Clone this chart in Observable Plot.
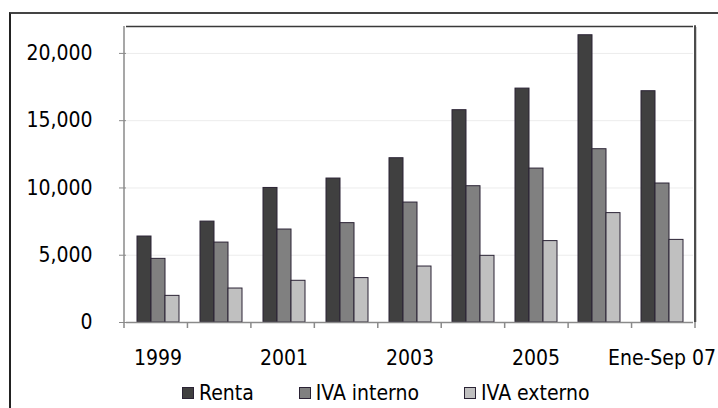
<!DOCTYPE html>
<html>
<head>
<meta charset="utf-8">
<script src="https://cdn.jsdelivr.net/npm/d3@7"></script>
<script src="https://cdn.jsdelivr.net/npm/@observablehq/plot@0.6"></script>
<style>
html,body{margin:0;padding:0;background:#fff;}
#wrap{position:relative;width:718px;height:408px;overflow:hidden;background:#fff;
  font-family:"DejaVu Sans Condensed","DejaVu Sans",sans-serif;font-stretch:semi-condensed;}
#frame{position:absolute;left:9px;top:12px;width:740px;height:440px;box-sizing:border-box;
  border-top:2px solid #444;border-left:2px solid #222;}
#chart{position:absolute;left:0;top:0;}
#chart text{fill:#000;}
#legend{position:absolute;left:182px;top:381px;display:flex;align-items:center;gap:45px;
  font-size:21px;color:#000;line-height:24px;white-space:nowrap;}
.item{display:flex;align-items:center;}
.sw{width:12px;height:12px;box-sizing:border-box;border:1px solid #2b2335;margin-right:5px;}
</style>
</head>
<body>
<div id="wrap">
  <div id="frame"></div>
  <div id="chart"></div>
  <div id="legend"></div>
</div>
<script>
const categories = ["1999","2000","2001","2002","2003","2004","2005","2006","Ene-Sep 07"];
const series = ["Renta","IVA interno","IVA externo"];
const renta      = [6390, 7500, 10000, 10700, 12210, 15780, 17385, 21350, 17190];
const ivaInterno = [4730, 5940,  6910,  7385,  8915, 10130, 11440, 12880, 10330];
const ivaExterno = [1980, 2525,  3100,  3300,  4160,  4955,  6050,  8130,  6140];
const yTicks = [0, 5000, 10000, 15000, 20000];
const xTickLabels = ["1999","2001","2003","2005","Ene-Sep 07"];
const colors = ["#404040","#808080","#c0c0c0"];

const valuesBySeries = [renta, ivaInterno, ivaExterno];
const rows = categories.flatMap((c, i) =>
  series.map((s, j) => ({year: c, series: s, value: valuesBySeries[j][i]})));
const shown = new Set(xTickLabels);

const chart = Plot.plot({
  width: 718,
  height: 375,
  marginLeft: 124,
  marginRight: 23,
  marginTop: 26,
  marginBottom: 53,
  style: {
    fontFamily: '"DejaVu Sans Condensed","DejaVu Sans",sans-serif',
    fontSize: "21px",
    color: "#8a8a8a",
    background: "transparent",
    overflow: "visible"
  },
  facet: {data: rows, x: "year"},
  fx: {domain: categories, padding: 0, label: null, axis: "bottom",
       tickSize: 0, tickPadding: 28, tickFormat: d => shown.has(d) ? d : ""},
  x: {domain: series, paddingInner: 0, paddingOuter: 0.69, axis: null},
  y: {domain: [0, 22000], ticks: yTicks, tickSize: 7, tickPadding: 27,
      tickFormat: d3.format(","), label: null},
  color: {domain: series, range: colors},
  marks: [
    Plot.ruleY(yTicks.filter(d => d > 0), {stroke: "#ececec", strokeWidth: 1}),
    Plot.barY(rows, {x: "series", y: "value", fill: "series", stroke: "#2b2335", strokeWidth: 1}),
    Plot.ruleY([0], {stroke: "#8a8a8a", strokeWidth: 1.5}),
    Plot.ruleY([22000], {stroke: "#3a3a3a", strokeWidth: 1.5})
  ]
});
document.getElementById("chart").appendChild(chart);

// frame lines and category-boundary ticks from the plot's own scales
const fxS = chart.scale("fx");
const yS = chart.scale("y");
const band = d3.scaleBand().domain(fxS.domain).range(fxS.range).padding(0);
const yLin = d3.scaleLinear().domain(yS.domain).range(yS.range);
const y0 = yLin(0), yTop = yLin(22000);
const [xl, xr] = fxS.range;
const svg = d3.select(chart);
const g = svg.append("g");
const bounds = band.domain().map(d => band(d)).concat([xr]);
g.selectAll("line.b").data(bounds).join("line")
  .attr("x1", d => d).attr("x2", d => d).attr("y1", y0).attr("y2", y0 + 6)
  .attr("stroke", "#8a8a8a").attr("stroke-width", 1.5);
g.append("line").attr("x1", xl).attr("x2", xl).attr("y1", yTop).attr("y2", y0)
  .attr("stroke", "#8a8a8a").attr("stroke-width", 1.5);
g.append("line").attr("x1", xr + 1.5).attr("x2", xr + 1.5).attr("y1", yTop + 1).attr("y2", y0)
  .attr("stroke", "#d0d0d0").attr("stroke-width", 1);
g.append("line").attr("x1", xr).attr("x2", xr).attr("y1", yTop - 0.75).attr("y2", y0)
  .attr("stroke", "#111").attr("stroke-width", 1.5);

// legend
const legend = d3.select("#legend");
series.forEach((s, i) => {
  const it = legend.append("div").attr("class", "item");
  it.append("div").attr("class", "sw").style("background", colors[i]);
  it.append("span").text(s);
});
</script>
</body>
</html>
